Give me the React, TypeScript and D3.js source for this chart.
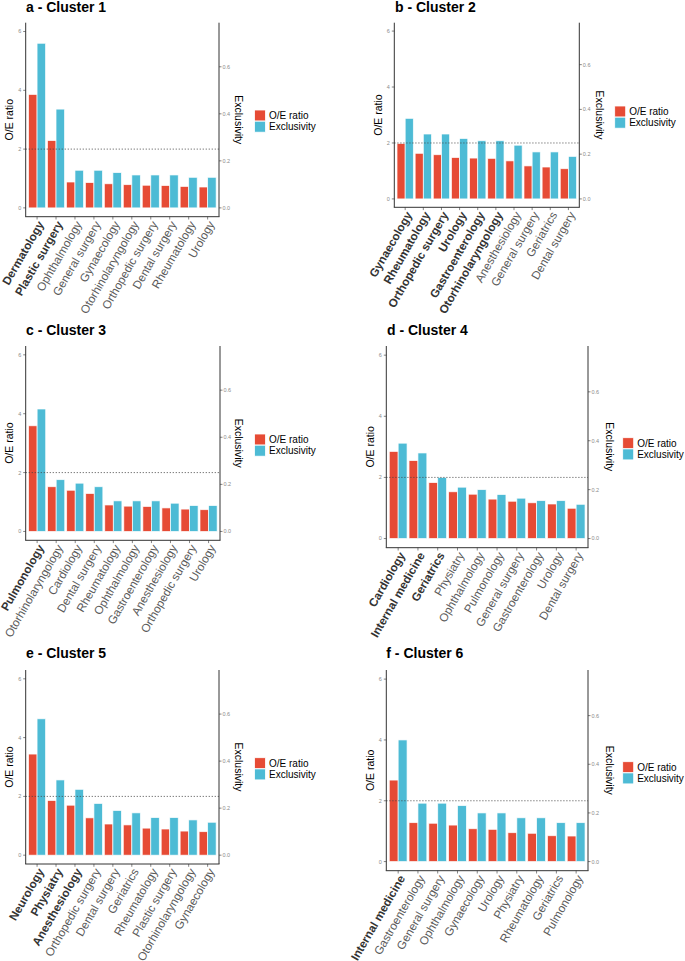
import React from "react";
import * as d3 from "d3";

const titles = ["a - Cluster 1", "b - Cluster 2", "c - Cluster 3", "d - Cluster 4", "e - Cluster 5", "f - Cluster 6"];

const c1Names = ["Dermatology", "Plastic surgery", "Ophthalmology", "General surgery", "Gynaecology", "Otorhinolaryngology", "Orthopedic surgery", "Dental surgery", "Rheumatology", "Urology"];
const c1OE = [3.86, 2.29, 0.88, 0.86, 0.82, 0.79, 0.77, 0.76, 0.73, 0.71];
const c1Excl = [0.70, 0.42, 0.16, 0.16, 0.15, 0.14, 0.14, 0.14, 0.13, 0.13];

const c2Names = ["Gynaecology", "Rheumatology", "Orthopedic surgery", "Urology", "Gastroenterology", "Otorhinolaryngology", "Anesthesiology", "General surgery", "Geriatrics", "Dental surgery"];
const c2OE = [1.98, 1.63, 1.58, 1.48, 1.46, 1.45, 1.36, 1.18, 1.14, 1.08];
const c2Excl = [0.36, 0.29, 0.29, 0.27, 0.26, 0.26, 0.24, 0.21, 0.21, 0.19];

const c3Names = ["Pulmonology", "Otorhinolaryngology", "Cardiology", "Dental surgery", "Rheumatology", "Ophthalmology", "Gastroenterology", "Anesthesiology", "Orthopedic surgery", "Urology"];
const c3OE = [3.59, 1.52, 1.40, 1.29, 0.90, 0.86, 0.85, 0.80, 0.76, 0.74];
const c3Excl = [0.52, 0.22, 0.205, 0.19, 0.13, 0.13, 0.13, 0.12, 0.11, 0.11];

const c4Names = ["Cardiology", "Internal medicine", "Geriatrics", "Physiatry", "Ophthalmology", "Pulmonology", "General surgery", "Gastroenterology", "Urology", "Dental surgery"];
const c4OE = [2.85, 2.55, 1.83, 1.53, 1.45, 1.29, 1.22, 1.17, 1.13, 0.99];
const c4Excl = [0.39, 0.35, 0.25, 0.21, 0.20, 0.18, 0.165, 0.155, 0.155, 0.14];

const c5Names = ["Neurology", "Physiatry", "Anesthesiology", "Orthopedic surgery", "Dental surgery", "Geriatrics", "Rheumatology", "Plastic surgery", "Otorhinolaryngology", "Gynaecology"];
const c5OE = [3.44, 1.86, 1.70, 1.27, 1.06, 1.03, 0.92, 0.89, 0.82, 0.80];
const c5Excl = [0.58, 0.32, 0.28, 0.22, 0.19, 0.18, 0.16, 0.16, 0.15, 0.14];

const c6Names = ["Internal medicine", "Gastroenterology", "General surgery", "Ophthalmology", "Gynaecology", "Urology", "Physiatry", "Rheumatology", "Geriatrics", "Pulmonology"];
const c6OE = [2.68, 1.28, 1.26, 1.20, 1.08, 1.06, 0.95, 0.93, 0.85, 0.84];
const c6Excl = [0.50, 0.24, 0.24, 0.23, 0.20, 0.20, 0.18, 0.18, 0.16, 0.16];

const boldCounts = [2, 6, 1, 3, 3, 1];

const leftTicks = [0, 2, 4, 6];
const rightTicks = [0, 0.2, 0.4, 0.6];
const seriesKeys = ["O/E ratio", "Exclusivity"];
const refLine = 2;
const exclScale = 8;

const names = [c1Names, c2Names, c3Names, c4Names, c5Names, c6Names];
const oes = [c1OE, c2OE, c3OE, c4OE, c5OE, c6OE];
const excls = [c1Excl, c2Excl, c3Excl, c4Excl, c5Excl, c6Excl];

const RED = "#E64B35";
const BLUE = "#4DBBD5";
const FONT = "'Liberation Sans', Arial, Helvetica, sans-serif";

type Layout = {
  titleX: number; titleY: number;
  left: number; right: number; top: number; bottom: number;
  legX: number; legTop: number; yTitleX: number; rTitleX: number;
};

const layouts: Layout[] = [
  { titleX: 26, titleY: 12, left: 25.7, right: 219, top: 22.7, bottom: 216.7, legX: 254.5, legTop: 110, yTitleX: 9.5, rTitleX: 239 },
  { titleX: 395, titleY: 12, left: 394.3, right: 579.3, top: 22.7, bottom: 207.3, legX: 614.7, legTop: 106, yTitleX: 378.7, rTitleX: 599.3 },
  { titleX: 26, titleY: 335, left: 25.7, right: 220, top: 346, bottom: 540.3, legX: 254.5, legTop: 434, yTitleX: 9.5, rTitleX: 239 },
  { titleX: 387, titleY: 335, left: 386.3, right: 588, top: 346, bottom: 547.7, legX: 622.7, legTop: 437.7, yTitleX: 370.3, rTitleX: 609.3 },
  { titleX: 26, titleY: 658, left: 25.7, right: 219, top: 670, bottom: 864, legX: 254.5, legTop: 757.7, yTitleX: 9.5, rTitleX: 239 },
  { titleX: 386.3, titleY: 658, left: 386.3, right: 588, top: 670, bottom: 870.7, legX: 622.7, legTop: 761.7, yTitleX: 370.3, rTitleX: 609.3 },
];

function Panel({ idx }: { idx: number }) {
  const L = layouts[idx];
  const cats = names[idx];
  const oe = oes[idx];
  const ex = excls[idx];
  const nBold = boldCounts[idx];

  const x = d3.scaleBand<string>().domain(cats).range([L.left, L.right]).paddingInner(0.1).paddingOuter(0.15);
  const xs = d3.scaleBand<string>().domain(seriesKeys).range([0, x.bandwidth()]).padding(0);
  const y = d3.scaleLinear().domain([-0.3, 6.3]).range([L.bottom, L.top]);
  const yR = d3.scaleLinear().domain([-0.3 / exclScale, 6.3 / exclScale]).range([L.bottom, L.top]);
  const midY = (L.top + L.bottom) / 2;
  const axisCol = "#333333";
  const tickCol = "#8a8a8a";
  const fmtR = d3.format(".1f");

  return (
    <g>
      <text x={L.titleX} y={L.titleY} fontSize={14} fontWeight="bold" fill="#000" fontFamily={FONT}>{titles[idx]}</text>

      {cats.map((c, i) => {
        const bx = x(c)!;
        const vals = [oe[i], ex[i] * exclScale];
        return (
          <g key={c}>
            {seriesKeys.map((k, j) => (
              <rect key={k} x={bx + xs(k)!} y={y(vals[j])} width={xs.bandwidth()} height={y(0) - y(vals[j])}
                fill={j === 0 ? RED : BLUE} stroke="#ffffff" strokeOpacity={0.85} strokeWidth={0.8} />
            ))}
          </g>
        );
      })}

      <line x1={L.left} x2={L.right} y1={y(refLine)} y2={y(refLine)} stroke="#444" strokeWidth={0.8} strokeDasharray="1.2 1.8" />

      <line x1={L.left} x2={L.left} y1={L.top} y2={L.bottom} stroke={axisCol} strokeWidth={1} />
      <line x1={L.right} x2={L.right} y1={L.top} y2={L.bottom} stroke={axisCol} strokeWidth={1} />
      <line x1={L.left - 0.5} x2={L.right + 0.5} y1={L.bottom} y2={L.bottom} stroke={axisCol} strokeWidth={1} />

      {leftTicks.map((t) => (
        <g key={"l" + t}>
          <line x1={L.left - 2.5} x2={L.left} y1={y(t)} y2={y(t)} stroke={axisCol} strokeWidth={0.6} />
          <text x={L.left - 4.5} y={y(t)} dy="0.35em" textAnchor="end" fontSize={5.5} fill={tickCol} fontFamily={FONT}>{t}</text>
        </g>
      ))}
      {rightTicks.map((t) => (
        <g key={"r" + t}>
          <line x1={L.right} x2={L.right + 2.5} y1={yR(t)} y2={yR(t)} stroke={axisCol} strokeWidth={0.6} />
          <text x={L.right + 3.5} y={yR(t)} dy="0.35em" textAnchor="start" fontSize={5.5} fill={tickCol} fontFamily={FONT}>{fmtR(t)}</text>
        </g>
      ))}

      {cats.map((c, i) => {
        const cx = x(c)! + x.bandwidth() / 2;
        const bold = i < nBold;
        return (
          <g key={"x" + c}>
            <line x1={cx} x2={cx} y1={L.bottom} y2={L.bottom + 2.8} stroke={axisCol} strokeWidth={0.6} />
            <text transform={`translate(${cx},${L.bottom + 3.2}) rotate(-60)`} dy="0.72em" textAnchor="end"
              fontSize={11.7} fontWeight={bold ? "bold" : "normal"} fill={bold ? "#333" : "#5a5a5a"} fontFamily={FONT}>{c}</text>
          </g>
        );
      })}

      <text transform={`translate(${L.yTitleX},${midY}) rotate(-90)`} dy="0.35em" textAnchor="middle" fontSize={10.5} fill="#000" fontFamily={FONT}>O/E ratio</text>
      <text transform={`translate(${L.rTitleX},${midY}) rotate(90)`} dy="0.35em" textAnchor="middle" fontSize={10.5} fill="#000" fontFamily={FONT}>Exclusivity</text>

      {seriesKeys.map((k, j) => (
        <g key={"lg" + k}>
          <rect x={L.legX} y={L.legTop + j * 11.2} width={11} height={11} fill={j === 0 ? RED : BLUE} stroke="#fff" strokeWidth={0.8} />
          <text x={L.legX + 14.5} y={L.legTop + j * 11.2 + 5.5} dy="0.35em" fontSize={10} fill="#000" fontFamily={FONT}>{k}</text>
        </g>
      ))}
    </g>
  );
}

export default function App() {
  return (
    <svg width={685} height={961} style={{ position: "absolute", left: 0, top: 0, background: "#fff" }}>
      <rect x={0} y={0} width={685} height={961} fill="#fff" />
      {layouts.map((_, i) => <Panel key={i} idx={i} />)}
    </svg>
  );
}
